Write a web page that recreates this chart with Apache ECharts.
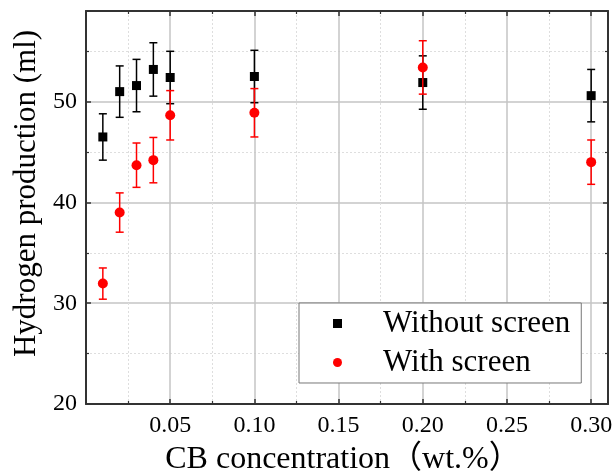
<!DOCTYPE html>
<html><head><meta charset="utf-8">
<script src="https://cdn.jsdelivr.net/npm/echarts@6/dist/echarts.min.js"></script>
<style>html,body{margin:0;padding:0;background:#fff}#c{width:615px;height:475px}</style>
</head><body><div id="c"></div>
<script>
// ---- data ----
const concentrations = [0.01, 0.02, 0.03, 0.04, 0.05, 0.10, 0.20, 0.30];
const withoutScreen = [46.5, 51.0, 51.6, 53.2, 52.4, 52.5, 51.9, 50.6];
const withoutScreenErr = [2.3, 2.55, 2.6, 2.65, 2.6, 2.6, 2.65, 2.6];
const withScreen = [31.95, 39.0, 43.7, 44.2, 48.65, 48.9, 53.4, 44.0];
const withScreenErr = [1.55, 1.95, 2.2, 2.25, 2.45, 2.4, 2.65, 2.2];
const seriesNames = ['Without screen', 'With screen'];
const xTitle = 'CB concentration（wt.%）';
const yTitle = 'Hydrogen production (ml)';

const FONT = '"Liberation Serif", "Times New Roman", "Noto Sans CJK SC", serif';
const AX = '#333';

function pts(vals) { return concentrations.map((x, i) => [x, vals[i]]); }
function errs(vals, e) { return concentrations.map((x, i) => [x, vals[i] - e[i], vals[i] + e[i]]); }

function errRender(color) {
  return function (params, api) {
    const x = api.value(0), lo = api.value(1), hi = api.value(2);
    const pLo = api.coord([x, lo]), pHi = api.coord([x, hi]);
    const hw = 4;
    const style = { stroke: color, lineWidth: 1.5, fill: null };
    return { type: 'group', children: [
      { type: 'line', shape: { x1: pLo[0], y1: pLo[1], x2: pHi[0], y2: pHi[1] }, style },
      { type: 'line', shape: { x1: pLo[0] - hw, y1: pLo[1], x2: pLo[0] + hw, y2: pLo[1] }, style },
      { type: 'line', shape: { x1: pHi[0] - hw, y1: pHi[1], x2: pHi[0] + hw, y2: pHi[1] }, style }
    ]};
  };
}

const xCommon = {
  type: 'value', min: 0, max: 0.31, interval: 0.05,
  axisLine: { show: true, onZero: false, lineStyle: { color: AX, width: 2 } },
  axisTick: { show: true, inside: true, length: 5, lineStyle: { color: AX, width: 1.5 } },
  minorTick: { show: true, splitNumber: 2, length: 3, lineStyle: { color: AX, width: 1.2 } }
};
const yCommon = {
  type: 'value', min: 20, max: 59, interval: 10,
  axisLine: { show: true, onZero: false, lineStyle: { color: AX, width: 2 } },
  axisTick: { show: true, inside: true, length: 5, lineStyle: { color: AX, width: 1.5 } },
  minorTick: { show: true, splitNumber: 2, length: 3, lineStyle: { color: AX, width: 1.2 } }
};

const chart = echarts.init(document.getElementById('c'), null, { renderer: 'canvas' });
chart.setOption({
  backgroundColor: '#fff',
  animation: false,
  grid: { left: 86, top: 11, right: 7, bottom: 71, containLabel: false, outerBoundsMode: 'none' },
  xAxis: [
    Object.assign({}, xCommon, {
      position: 'bottom',
      name: xTitle, nameLocation: 'middle', nameGap: 40,
      nameTextStyle: { fontFamily: FONT, fontSize: 32, color: '#000', padding: [0, 8, 0, 0] },
      axisLabel: { show: true, fontFamily: FONT, fontSize: 24, color: '#000', margin: 10,
        showMinLabel: false, showMaxLabel: false,
        formatter: v => v.toFixed(2) },
      splitLine: { show: true, lineStyle: { color: '#c4c4c4', width: 1.5 } },
      minorSplitLine: { show: true, lineStyle: { color: '#dedede', width: 1, type: [2, 2] } }
    }),
    Object.assign({}, xCommon, { position: 'top', axisLabel: { show: false }, splitLine: { show: false } })
  ],
  yAxis: [
    Object.assign({}, yCommon, {
      position: 'left',
      name: yTitle, nameLocation: 'middle', nameGap: 43,
      nameTextStyle: { fontFamily: FONT, fontSize: 31, color: '#000', padding: [0, 0, 0, 28] },
      axisLabel: { show: true, fontFamily: FONT, fontSize: 24, color: '#000', margin: 9,
        showMaxLabel: false },
      splitLine: { show: true, lineStyle: { color: '#c4c4c4', width: 1.5 } },
      minorSplitLine: { show: true, lineStyle: { color: '#dedede', width: 1, type: [2, 2] } }
    }),
    Object.assign({}, yCommon, { position: 'right', axisLabel: { show: false }, splitLine: { show: false } })
  ],
  legend: {
    data: seriesNames,
    orient: 'vertical',
    left: 299, top: 303,
    backgroundColor: '#fff',
    borderColor: '#777', borderWidth: 1, borderRadius: 0,
    padding: [5, 11, 5, 34],
    itemGap: 8, itemWidth: 9, itemHeight: 9,
    textStyle: { fontFamily: FONT, fontSize: 31, color: '#000', padding: [0, 0, 0, 36] }
  },
  series: [
    { name: 'errWithout', type: 'custom', renderItem: errRender('#000'),
      data: errs(withoutScreen, withoutScreenErr), encode: { x: 0, y: [1, 2] }, z: 2, silent: true },
    { name: seriesNames[0], type: 'scatter', symbol: 'rect', symbolSize: 9,
      itemStyle: { color: '#000', opacity: 1 }, data: pts(withoutScreen), z: 3 },
    { name: 'errWith', type: 'custom', renderItem: errRender('#ff0000'),
      data: errs(withScreen, withScreenErr), encode: { x: 0, y: [1, 2] }, z: 4, silent: true },
    { name: seriesNames[1], type: 'scatter', symbol: 'circle', symbolSize: 10,
      itemStyle: { color: '#ff0000', opacity: 1 }, data: pts(withScreen), z: 5 }
  ]
});
</script></body></html>
